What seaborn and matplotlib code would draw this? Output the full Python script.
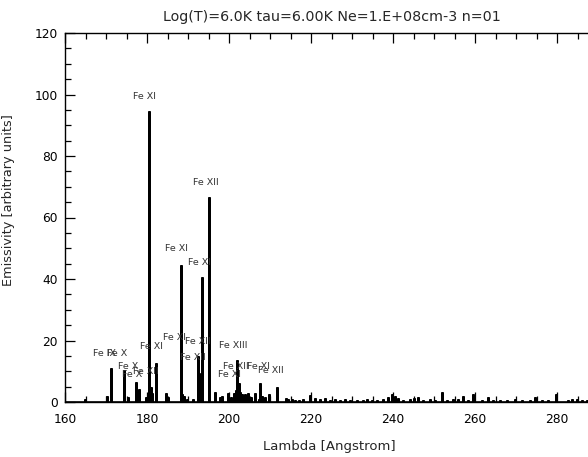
import matplotlib
matplotlib.use("Agg")
import matplotlib.pyplot as plt
import seaborn as sns
import numpy as np
import pandas as pd
from matplotlib.ticker import MultipleLocator

# ---------------- data ----------------
wavelength = [164.9, 170.3, 171.1, 174.5, 175.3, 177.3, 178.1, 179.8, 180.4, 180.9,
              181.3, 182.2, 184.6, 185.2, 188.2, 188.6, 189.0, 189.7, 191.2,
              192.4, 192.6, 192.8, 193.0, 193.2, 193.5, 195.1, 196.6, 197.9,
              198.4, 199.8, 200.5, 201.1, 201.6, 202.0, 202.4, 202.7, 203.2,
              203.8, 204.6, 205.3, 206.3, 207.2, 207.6, 208.0, 208.7, 209.8,
              211.6, 213.8, 214.4, 215.3, 216.2, 217.1, 218.1, 219.8, 221.0,
              222.2, 223.4, 224.6, 225.9, 227.1, 228.3, 229.5, 231.1, 232.8,
              233.6, 234.8, 236.0, 237.6, 238.9, 239.7, 240.5, 241.3, 242.5,
              244.1, 245.0, 246.2, 247.4, 249.0, 250.2, 251.9, 253.1, 254.7,
              255.9, 257.1, 258.4, 259.6, 261.6, 263.2, 264.5, 266.1, 267.7,
              269.8, 271.4, 273.4, 274.6, 276.3, 277.9, 279.8, 282.8, 283.6,
              284.8, 286.0, 287.2]
emissivity = [1.0, 2.0, 11.0, 10.5, 1.5, 6.6, 4.2, 1.5, 94.7, 5.0,
              3.0, 12.8, 3.0, 1.5, 44.5, 2.5, 1.8, 1.0, 1.0,
              15.0, 9.4, 9.4, 9.2, 8.5, 40.6, 66.8, 3.4, 1.5,
              2.0, 3.0, 1.5, 3.0, 4.0, 13.7, 6.3, 3.4, 2.5,
              2.5, 3.0, 1.5, 3.0, 1.0, 6.2, 2.0, 1.5, 2.6,
              5.0, 1.2, 1.0, 1.0, 0.8, 0.8, 1.0, 2.3, 1.2,
              1.0, 1.2, 0.8, 1.0, 0.8, 1.0, 0.8, 0.8, 0.8,
              1.0, 0.8, 0.8, 1.0, 1.5, 2.6, 1.8, 1.2, 0.8,
              1.0, 1.2, 1.5, 0.8, 1.0, 0.8, 3.1, 0.8, 1.0,
              1.0, 2.0, 0.8, 2.6, 0.8, 1.5, 0.8, 0.8, 0.8,
              1.0, 0.8, 0.8, 1.5, 0.8, 0.8, 2.6, 0.8, 1.0,
              1.0, 0.8, 0.8]

label_text = ["Fe XI", "Fe XII", "Fe XI", "Fe XI", "Fe XI", "Fe IX", "Fe X",
              "Fe X", "Fe X", "Fe XII", "Fe XI", "Fe XII", "Fe XII",
              "Fe XIII", "Fe XI", "Fe XII", "Fe XI", "Fe XII"]
label_x = [179.3, 194.4, 187.1, 192.7, 181.2, 166.8, 170.2,
           172.9, 173.9, 176.6, 183.9, 189.3, 188.0,
           197.6, 197.3, 198.5, 204.4, 207.1]
label_y = [99.5, 71.5, 49.8, 45.5, 17.9, 15.9, 15.9,
           11.7, 9.1, 9.8, 21.1, 19.8, 14.6,
           18.5, 8.8, 11.4, 11.4, 10.4]
label_align = ["center", "center", "center", "center", "center", "left", "left",
               "left", "left", "left", "left", "left", "left",
               "left", "left", "left", "left", "left"]

title = "Log(T)=6.0K tau=6.00K Ne=1.E+08cm-3 n=01"
xlabel = "Lambda [Angstrom]"
ylabel = "Emissivity [arbitrary units]"

# --------------- build stick spectrum table ---------------
xs, ys = [160.0], [0.0]
for w, e in zip(wavelength, emissivity):
    xs += [w, w, w]
    ys += [0.0, e, 0.0]
xs.append(290.0)
ys.append(0.0)
df = pd.DataFrame({"x": xs, "y": ys})

# --------------- plot ---------------
sns.set_style("ticks")
plt.rcParams["font.family"] = ["DejaVu Sans"]

fig = plt.figure(figsize=(5.88, 4.57), dpi=100)
ax = fig.add_axes([65 / 588, (457 - 402) / 457, (598 - 65) / 588, (402 - 33) / 457])

sns.lineplot(data=df, x="x", y="y", sort=False, estimator=None, color="black",
             linewidth=1.9, ax=ax, solid_joinstyle="miter")

for t, x, y, a in zip(label_text, label_x, label_y, label_align):
    ax.text(x, y, t, fontsize=6.8, ha=a, va="center", color="#333333")

ax.set_xlim(160, 290)
ax.set_ylim(0, 120)
ax.xaxis.set_major_locator(MultipleLocator(20))
ax.xaxis.set_minor_locator(MultipleLocator(5))
ax.yaxis.set_major_locator(MultipleLocator(20))
ax.yaxis.set_minor_locator(MultipleLocator(5))
ax.tick_params(which="both", direction="in", top=True, right=True,
               colors="black", labelsize=8.8, width=0.9)
ax.tick_params(which="major", length=7)
ax.tick_params(which="minor", length=4)
ax.tick_params(axis="x", pad=8)
ax.tick_params(axis="y", pad=5)
for s in ax.spines.values():
    s.set_visible(True)
    s.set_linewidth(1.0)
    s.set_color("black")

ax.set_title(title, fontsize=10.3, pad=9)
ax.set_xlabel(xlabel, fontsize=9.5)
ax.set_ylabel(ylabel, fontsize=9.3)
ax.xaxis.set_label_coords((329 - 65) / 533, -(440 - 402) / 369)
ax.yaxis.set_label_coords(-(65 - 15) / 533, (402 - 200) / 369)

fig.savefig("out.png", dpi=100)
